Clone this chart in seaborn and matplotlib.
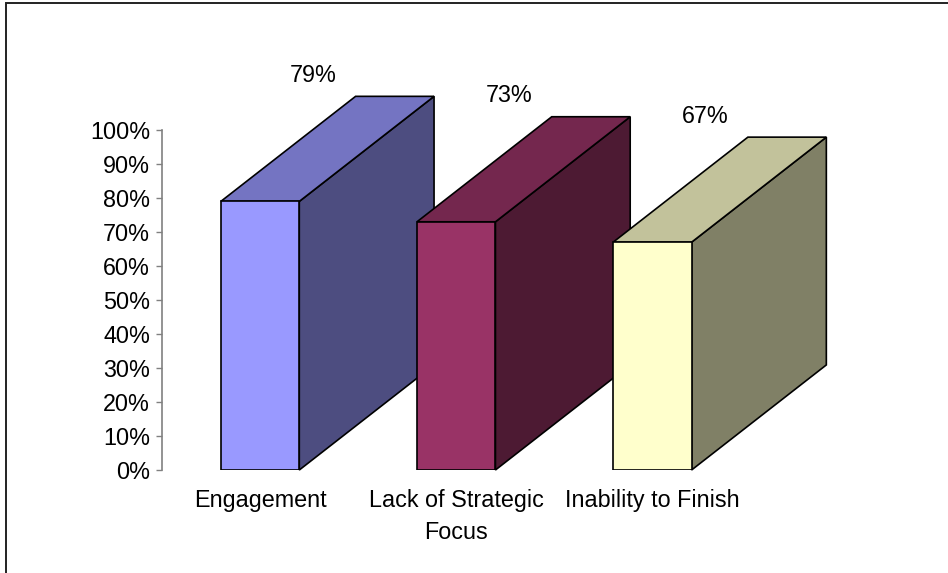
import numpy as np
import pandas as pd
import matplotlib
matplotlib.use("Agg")
import matplotlib.pyplot as plt
import seaborn as sns
from matplotlib.patches import Polygon, Rectangle
from matplotlib.ticker import FuncFormatter

# Survey results
categories = ["Engagement", "Lack of Strategic\nFocus", "Inability to Finish"]
values = [79, 73, 67]
value_labels = ["79%", "73%", "67%"]
face_colors = ["#9999FF", "#993366", "#FFFFCC"]
y_ticks = [0, 10, 20, 30, 40, 50, 60, 70, 80, 90, 100]

FS = 16.8

sns.set_theme(style="white")
plt.rcParams["font.family"] = ["Liberation Sans", "DejaVu Sans"]

fig = plt.figure(figsize=(9.48, 5.73), dpi=100)
ax = fig.add_axes([162 / 948, 103 / 573, 686.5 / 948, 442 / 573])

df = pd.DataFrame({"category": categories, "value": values})
sns.barplot(data=df, x="category", y="value", hue="category",
            palette=face_colors, width=0.4, edgecolor="black",
            linewidth=1.2, saturation=1, legend=False, ax=ax)

# Oblique depth of the boxes (data units)
depth_x, depth_y = 0.687, 30.9


def shade(hex_color, k):
    r, g, b = matplotlib.colors.to_rgb(hex_color)
    return (r * k, g * k, b * k)


for i, patch in enumerate(ax.patches):
    x0 = patch.get_x()
    w = patch.get_width()
    h = patch.get_height()
    x1 = x0 + w
    base = face_colors[i]
    patch.set_zorder(10 * i + 3)
    top = Polygon([(x0, h), (x1, h), (x1 + depth_x, h + depth_y),
                   (x0 + depth_x, h + depth_y)], closed=True,
                  facecolor=shade(base, 0.76), edgecolor="black",
                  linewidth=1.2, zorder=10 * i + 2, clip_on=False)
    side = Polygon([(x1, 0), (x1, h), (x1 + depth_x, h + depth_y),
                    (x1 + depth_x, depth_y)], closed=True,
                   facecolor=shade(base, 0.5), edgecolor="black",
                   linewidth=1.2, zorder=10 * i + 1, clip_on=False)
    ax.add_patch(side)
    ax.add_patch(top)
    ax.text(x0 + w / 2 + 0.27, h + depth_y + 6.2, value_labels[i],
            ha="center", va="center", fontsize=FS, color="black",
            zorder=50)

ax.set_xlim(-0.5, 3.0)
ax.set_ylim(0, 130)
ax.set_yticks(y_ticks)
ax.yaxis.set_major_formatter(FuncFormatter(lambda v, p: f"{int(v)}%"))
ax.set_xlabel("")
ax.set_ylabel("")

for s in ["top", "right", "bottom"]:
    ax.spines[s].set_visible(False)
ax.spines["left"].set_color("#808080")
ax.spines["left"].set_linewidth(1.2)
ax.spines["left"].set_bounds(0, 100)

ax.tick_params(axis="y", left=True, length=4.5, width=1.0, color="#808080",
               labelsize=FS, labelcolor="black", pad=4)
ax.tick_params(axis="x", bottom=False, length=0, labelsize=FS,
               labelcolor="black", pad=14)
for lbl in ax.get_xticklabels():
    lbl.set_linespacing(1.5)
    lbl.set_va("top")

# Chart area frame
fig.patches.append(Rectangle((6 / 948, -0.2), 1.5, (570 / 573) + 0.2,
                             transform=fig.transFigure, fill=False,
                             edgecolor="#222222", linewidth=1.4,
                             clip_on=False))

fig.savefig("out.png", dpi=100)
